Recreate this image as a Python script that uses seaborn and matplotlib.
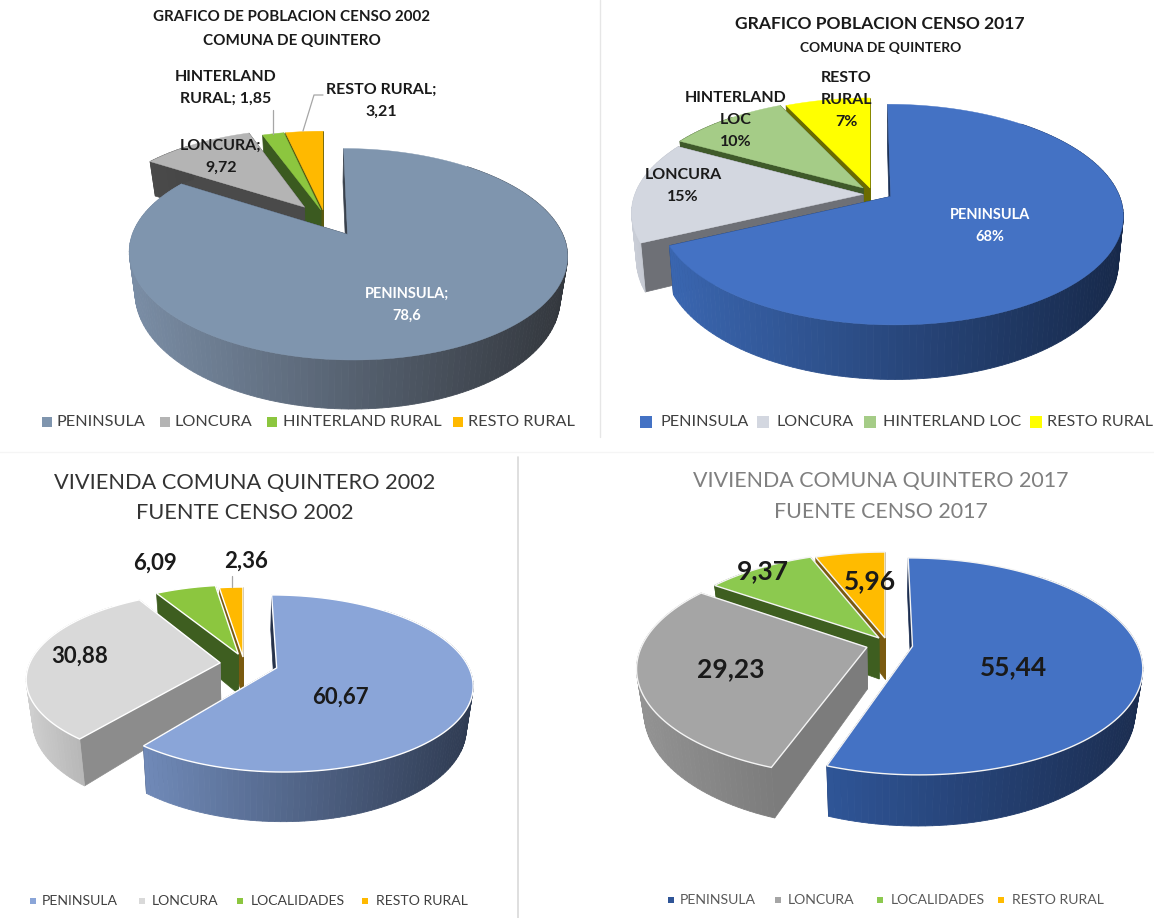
import numpy as np
import pandas as pd
import matplotlib
matplotlib.use("Agg")
import matplotlib.pyplot as plt
import seaborn as sns
from matplotlib.colors import to_rgb

# Census shares for the commune of Quintero
cats_pob_2002 = ["PENINSULA", "LONCURA", "HINTERLAND RURAL", "RESTO RURAL"]
vals_pob_2002 = [78.6, 9.72, 1.85, 3.21]
cats_pob_2017 = ["PENINSULA", "LONCURA", "HINTERLAND LOC", "RESTO RURAL"]
vals_pob_2017 = [68, 15, 10, 7]
cats_viv_2002 = ["PENINSULA", "LONCURA", "LOCALIDADES", "RESTO RURAL"]
vals_viv_2002 = [60.67, 30.88, 6.09, 2.36]
cats_viv_2017 = ["PENINSULA", "LONCURA", "LOCALIDADES", "RESTO RURAL"]
vals_viv_2017 = [55.44, 29.23, 9.37, 5.96]

sns.set_theme(style="white")
plt.rcParams["font.family"] = ["Lato", "DejaVu Sans"]

W, H = 1154, 918
fig = plt.figure(figsize=(W / 100, H / 100), dpi=100, facecolor="white")
ax = fig.add_axes([0, 0, 1, 1])
ax.set_xlim(0, W)
ax.set_ylim(H, 0)
ax.axis("off")


def mix(c1, c2, t):
    a, b = np.array(to_rgb(c1)), np.array(to_rgb(c2))
    return tuple(a + (b - a) * t)


def draw_pie3d(values, view, shifts, tops, arc_walls, side_walls, edge=None):
    """Extruded exploded pie: slices run clockwise from twelve o'clock, drawn back to front."""
    cx, cy, A, B, k, depth, conv = view
    shares = np.array(values, dtype=float) / np.sum(values) * 360
    stops = np.concatenate([[0], np.cumsum(shares)])

    def top_pt(u, v):
        s = 1 / (1 + k * v)
        return cx + A * u * s, cy - B * v * s

    def low_pt(u, v):
        s = 1 / (1 + k * v)
        return cx + A * u * s * conv, cy - B * v * s + depth * s

    for i in reversed(range(len(values))):
        su, sv = shifts[i]
        th = np.radians(np.linspace(stops[i], stops[i + 1], max(8, int(shares[i] / 1.5))))
        us, vs = su + np.sin(th), sv + np.cos(th)

        # flat inner faces
        for (eu, ev), col in (((us[-1], vs[-1]), side_walls[i]), ((us[0], vs[0]), side_walls[i])):
            quad = [top_pt(su, sv), top_pt(eu, ev), low_pt(eu, ev), low_pt(su, sv)]
            ax.fill(*zip(*quad), color=col, lw=0.5)

        # curved outer face, shaded across its width
        xs = np.array([top_pt(u, v)[0] for u, v in zip(us, vs)])
        span = max(xs.max() - xs.min(), 1)
        for j in range(len(th) - 1):
            if vs[j] - sv > 0.75 and vs[j + 1] - sv > 0.75:
                continue
            t = (0.5 * (xs[j] + xs[j + 1]) - xs.min()) / span
            col = mix(arc_walls[i][0], arc_walls[i][1], t)
            quad = [top_pt(us[j], vs[j]), top_pt(us[j + 1], vs[j + 1]),
                    low_pt(us[j + 1], vs[j + 1]), low_pt(us[j], vs[j])]
            ax.fill(*zip(*quad), color=col, lw=0.6)

        # upper face
        outline = [top_pt(su, sv)] + [top_pt(u, v) for u, v in zip(us, vs)]
        ax.fill(*zip(*outline), facecolor=tops[i],
                edgecolor=edge if edge else tops[i], lw=1.0 if edge else 0.3)


def legend_row(cats, colors, marker_x, text_x, y, size, msize, color):
    frame = pd.DataFrame({"x": marker_x, "y": [y] * len(cats), "cat": cats})
    sns.scatterplot(data=frame, x="x", y="y", hue="cat", palette=colors, marker="s",
                    s=msize, linewidth=0, legend=False, ax=ax, zorder=50)
    for cat, tx in zip(cats, text_x):
        ax.text(tx, y, cat, ha="left", va="center", fontsize=size, color=color, zorder=50)


def comma(v):
    return str(v).replace(".", ",")


def label(x, y, text, size, color="#1a1a1a", weight="bold"):
    ax.text(x, y, text, ha="center", va="center", fontsize=size, color=color,
            fontweight=weight, linespacing=1.72, zorder=60)


# --- population 2002 ---
tops_a = ["#7f95ae", "#b4b4b4", "#8cc63f", "#ffb900"]
draw_pie3d(vals_pob_2002, (323, 210, 205.5, 93, 0.18, 38, 0.97),
           [(0.114, -0.25), (-0.09, 0.03), (-0.01, 0.0), (0, 0)], tops_a,
           [("#7a8da5", "#33373d"), ("#4a4a4a", "#404040"), ("#3d5c22", "#3d5c22"), ("#7d6000", "#7d6000")],
           ["#39414c", "#4a4a4a", "#3b5a20", "#5a5a10"])
label(292, 17, "GRAFICO DE POBLACION CENSO 2002", 10.9)
label(292, 41, "COMUNA DE QUINTERO", 10.9)
label(226, 88, f"HINTERLAND\nRURAL; {comma(vals_pob_2002[2])}", 11.5)
label(381, 101, f"RESTO RURAL;\n{comma(vals_pob_2002[3])}", 11.5)
label(221, 157, f"LONCURA;\n{comma(vals_pob_2002[1])}", 11.5)
label(407, 305, f"PENINSULA;\n{comma(vals_pob_2002[0])}", 10.5, color="white")
ax.plot([273, 273], [110, 134], color="#a6a6a6", lw=0.9, zorder=40)
ax.plot([303, 314, 323], [131, 95, 95], color="#a6a6a6", lw=0.9, zorder=40)
legend_row(cats_pob_2002, tops_a, [47, 165, 272, 458], [57, 175, 283, 468], 422, 11.7, 45, "#404040")

# --- population 2017 ---
tops_b = ["#4472c4", "#d3d7e0", "#a5cc87", "#ffff00"]
draw_pie3d(vals_pob_2017, (870, 188, 226, 104.6, 0.162, 45, 0.98),
           [(0.09, -0.08), (-0.03, -0.06), (-0.03, 0.0), (0, 0)], tops_b,
           [("#3a66b0", "#17294a"), ("#c9cdd6", "#b5b8c0"), ("#3f5a2a", "#3f5a2a"), ("#6b6b00", "#6b6b00")],
           ["#1c3156", "#6e7076", "#3f5a2a", "#6b6b00"])
label(880, 24, "GRAFICO POBLACION CENSO 2017", 12.6)
label(881, 48, "COMUNA DE QUINTERO", 9.9)
label(846, 100, f"RESTO\nRURAL\n{vals_pob_2017[3]}%", 11.5)
label(736, 120, f"HINTERLAND\nLOC\n{vals_pob_2017[2]}%", 11.5)
label(683, 186, f"LONCURA\n{vals_pob_2017[1]}%", 11.5)
label(990, 226, f"PENINSULA\n{vals_pob_2017[0]}%", 10.5, color="white")
legend_row(cats_pob_2017, ["#4472c4", "#d3d7e0", "#a5cc87", "#ffff00"],
           [646, 763, 870, 1036], [660, 777, 883, 1047], 422, 11.6, 70, "#404040")

# --- dwellings 2002 ---
tops_c = ["#8aa5d8", "#d9d9d9", "#8cc63f", "#ffb900"]
draw_pie3d(vals_viv_2002, (243, 657, 188, 82, 0.172, 40, 0.97),
           [(0.175, -0.13), (-0.12, -0.07), (-0.025, 0.035), (0, 0)], tops_c,
           [("#708ab8", "#2f3b52"), ("#cfcfcf", "#9c9c9c"), ("#3e5e20", "#3e5e20"), ("#7a5a10", "#7a5a10")],
           ["#26324a", "#8c8c8c", "#3e5e20", "#7a5a10"], edge="white")
label(245, 483, "VIVIENDA COMUNA QUINTERO 2002", 15.7, color="#333333", weight="normal")
label(245, 513, "FUENTE CENSO 2002", 15.7, color="#333333", weight="normal")
label(155, 563, comma(vals_viv_2002[2]), 16)
label(246, 561, comma(vals_viv_2002[3]), 16)
label(80, 656, comma(vals_viv_2002[1]), 16)
label(340, 697, comma(vals_viv_2002[0]), 16)
ax.plot([232, 232], [576, 587], color="#a6a6a6", lw=0.9, zorder=40)
legend_row(cats_viv_2002, tops_c, [33, 142, 240, 365], [42, 152, 251, 376], 901, 10.1, 16, "#404040")

# --- dwellings 2017 ---
tops_d = ["#4472c4", "#a5a5a5", "#8cc94f", "#ffbb00"]
draw_pie3d(vals_viv_2017, (885, 638, 222, 101.7, 0.183, 41, 0.97),
           [(0.122, -0.08), (-0.08, -0.09), (-0.027, 0.0), (0, 0)], tops_d,
           [("#2f5597", "#1b2d50"), ("#939393", "#7c7c7c"), ("#3e5e20", "#3e5e20"), ("#7a5a10", "#7a5a10")],
           ["#1b2d50", "#7c7c7c", "#3e5e20", "#7a5a10"], edge="#f4f4f4")
label(881, 481, "VIVIENDA COMUNA QUINTERO 2017", 15.4, color="#7f7f7f", weight="normal")
label(881, 512, "FUENTE CENSO 2017", 15.4, color="#7f7f7f", weight="normal")
label(763, 571, comma(vals_viv_2017[2]), 19)
label(870, 581, comma(vals_viv_2017[3]), 19)
label(731, 669, comma(vals_viv_2017[1]), 19)
label(1013, 667, comma(vals_viv_2017[0]), 19)
legend_row(cats_viv_2017, ["#2f5597", "#a5a5a5", "#8cc94f", "#ffbb00"],
           [671, 778, 880, 1001], [680, 788, 891, 1012], 900, 10.1, 16, "#595959")

# --- panel separators ---
ax.plot([600, 600], [0, 437], color="#e6e6e6", lw=1)
ax.plot([518, 518], [457, 918], color="#d9d9d9", lw=1.2)
ax.plot([0, 1154], [452, 452], color="#f5f5f5", lw=1)

ax.set_xlim(0, W)
ax.set_ylim(H, 0)
ax.axis("off")
fig.savefig("out.png", dpi=100, facecolor="white")
